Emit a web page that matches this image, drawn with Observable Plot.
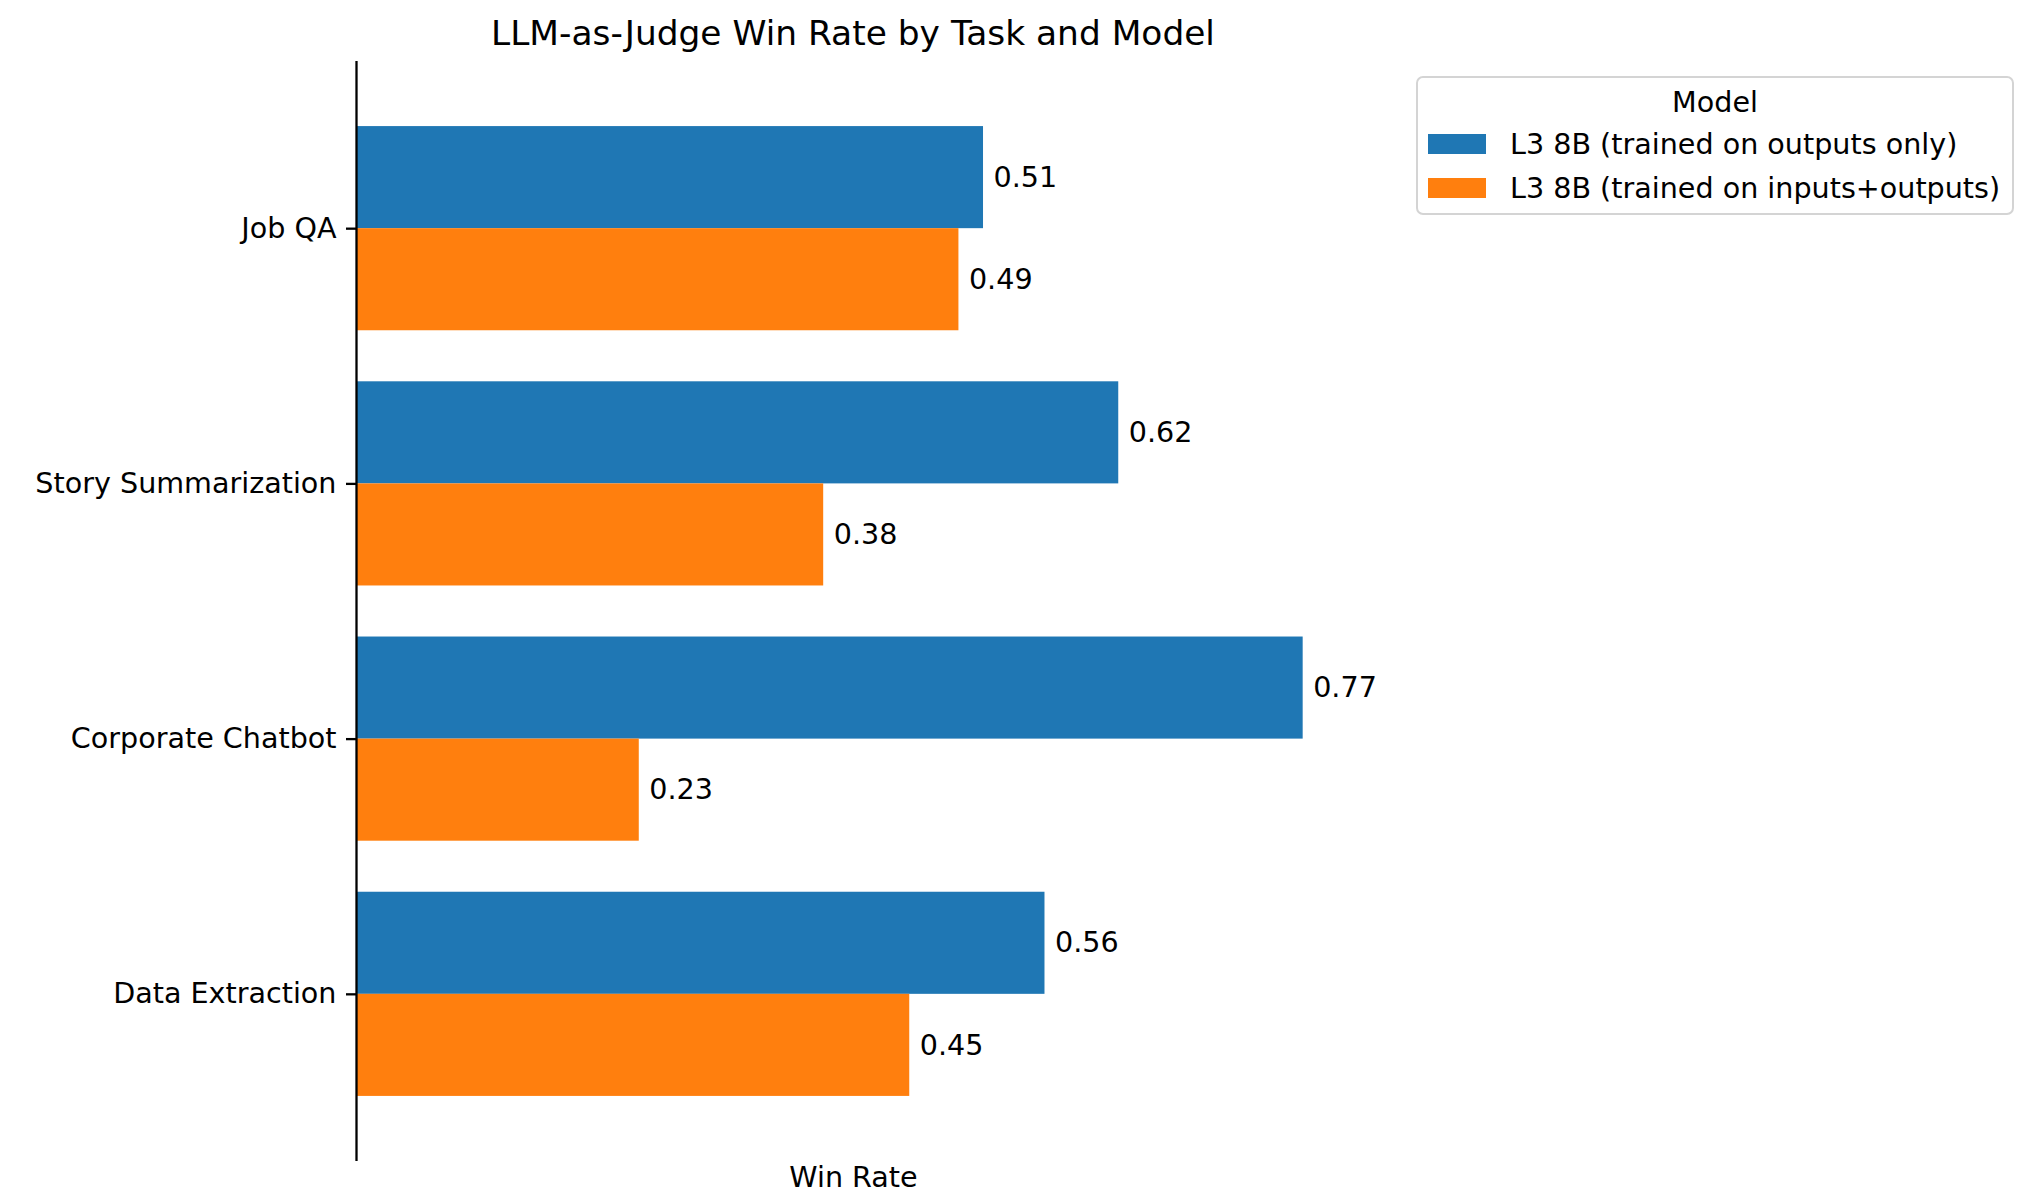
<!DOCTYPE html>
<html>
<head>
<meta charset="utf-8">
<script src="https://cdn.jsdelivr.net/npm/d3@7"></script>
<script src="https://cdn.jsdelivr.net/npm/@observablehq/plot@0.6"></script>
<style>
  html, body { margin: 0; padding: 0; background: #fff; }
  #chart { position: relative; width: 2025px; height: 1195px; font-family: "DejaVu Sans", sans-serif; color: #000; }
  #chart svg { position: absolute; left: 0; top: 0; overflow: visible; }
  .title { position: absolute; left: 356px; width: 994px; top: 13px; text-align: center; font-size: 34.4px; line-height: 40px; white-space: nowrap; }
  .legend { position: absolute; left: 1416px; top: 76px; width: 594px; height: 135px; border: 2px solid #d4d4d4; border-radius: 7px; background: rgba(255,255,255,0.8); }
  .legend .ltitle { position: absolute; left: 0; width: 100%; top: 4px; height: 40px; line-height: 40px; text-align: center; font-size: 28.6px; }
  .legend .sw { position: absolute; left: 10px; width: 58px; height: 20px; }
  .legend .lab { position: absolute; left: 92px; height: 40px; line-height: 40px; font-size: 28.6px; white-space: nowrap; }
</style>
</head>
<body>
<div id="chart"></div>
<script>
// Tasks (top to bottom) and the two fine-tuned model variants
const tasks = ["Job QA", "Story Summarization", "Corporate Chatbot", "Data Extraction"];
const models = ["L3 8B (trained on outputs only)", "L3 8B (trained on inputs+outputs)"];
const colors = ["#1f77b4", "#ff7f0e"];

// Win rates per task for each model
const outputsOnly = [0.51, 0.62, 0.77, 0.56];
const inputsOutputs = [0.49, 0.38, 0.23, 0.45];

const chartTitle = "LLM-as-Judge Win Rate by Task and Model";
const xLabel = "Win Rate";
const legendTitle = "Model";

// Grouped horizontal bars: each task sits at an integer slot, the two bars
// split it, outputs-only above, inputs+outputs below.
const barHeight = 0.4;
const series = [outputsOnly, inputsOutputs];
const rows = [];
tasks.forEach((task, i) => {
  series.forEach((vals, j) => {
    const y1 = i - barHeight + j * barHeight;
    rows.push({task, model: models[j], value: vals[i], y1, y2: y1 + barHeight});
  });
});

const font = 28.6;

const plot = Plot.plot({
  width: 2025,
  height: 1195,
  marginLeft: 356,
  marginRight: 675,
  marginTop: 61,
  marginBottom: 34,
  style: {fontFamily: "DejaVu Sans, sans-serif", fontSize: `${font}px`, background: "transparent", overflow: "visible"},
  x: {domain: [0, 0.8085], axis: null},
  y: {domain: [-0.655, 3.655], reverse: true, axis: null},
  color: {domain: models, range: colors},
  marks: [
    Plot.rect(rows, {x1: 0, x2: "value", y1: "y1", y2: "y2", fill: "model"}),
    Plot.text(rows, {
      x: "value",
      y: d => (d.y1 + d.y2) / 2,
      text: d => d.value.toFixed(2),
      textAnchor: "start",
      dx: 10,
      fontSize: font,
      fill: "#000"
    }),
    Plot.axisY(d3.range(tasks.length), {
      anchor: "left",
      tickFormat: i => tasks[i],
      tickSize: 10,
      tickPadding: 10,
      fontSize: font,
      strokeWidth: 2.3,
      label: null
    }),
    Plot.ruleX([0], {stroke: "#000", strokeWidth: 2.3}),
    Plot.text([xLabel], {frameAnchor: "bottom", dy: 16, lineAnchor: "middle", fontSize: font, fill: "#000"})
  ]
});

const chart = document.getElementById("chart");
chart.appendChild(plot);

const title = document.createElement("div");
title.className = "title";
title.textContent = chartTitle;
chart.appendChild(title);

const legend = document.createElement("div");
legend.className = "legend";
const lt = document.createElement("div");
lt.className = "ltitle";
lt.textContent = legendTitle;
legend.appendChild(lt);
models.forEach((m, j) => {
  const sw = document.createElement("div");
  sw.className = "sw";
  sw.style.top = `${56 + j * 44}px`;
  sw.style.background = colors[j];
  legend.appendChild(sw);
  const lab = document.createElement("div");
  lab.className = "lab";
  lab.style.top = `${46 + j * 44}px`;
  lab.textContent = m;
  legend.appendChild(lab);
});
chart.appendChild(legend);
</script>
</body>
</html>
